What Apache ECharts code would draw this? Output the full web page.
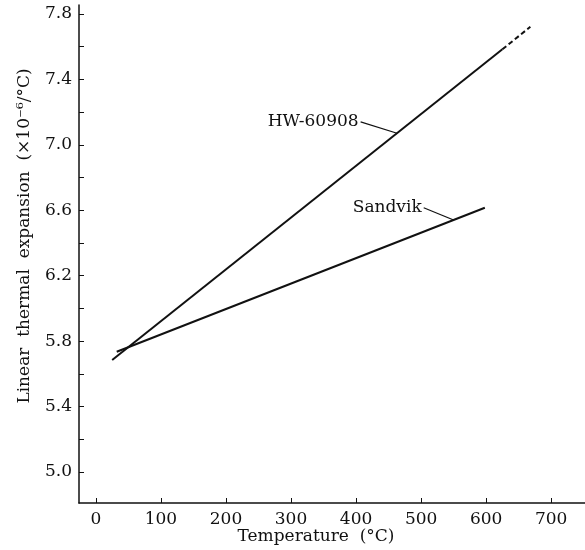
<!DOCTYPE html>
<html>
<head>
<meta charset="utf-8">
<script src="https://cdn.jsdelivr.net/npm/echarts@6/dist/echarts.min.js"></script>
<style>html,body{margin:0;padding:0;background:#fff}#c{width:585px;height:550px}</style>
</head>
<body>
<div id="c"></div>
<script>
// Data
var hwSolid = [[25, 5.684], [625, 7.584]];
var hwDashed = [[625, 7.584], [668, 7.722]];
var sandvik = [[32, 5.735], [598, 6.615]];
var hwLeader = [[407, 7.14], [463, 7.071]];
var sandvikLeader = [[504, 6.615], [550, 6.540]];
var hwName = 'HW-60908';
var sandvikName = 'Sandvik';
var xTicks = [0, 100, 200, 300, 400, 500, 600, 700];
var yLabelTicks = [5.0, 5.4, 5.8, 6.2, 6.6, 7.0, 7.4, 7.8];
var yAllTicks = [5.0, 5.2, 5.4, 5.6, 5.8, 6.0, 6.2, 6.4, 6.6, 6.8, 7.0, 7.2, 7.4, 7.6, 7.8];
var xTitle = 'Temperature  (°C)';
var yTitle = 'Linear  thermal  expansion  (×10⁻⁶/°C)';

var FONT = 'DejaVu Serif';
var INK = '#111';
var chart = echarts.init(document.getElementById('c'), null, {renderer: 'canvas'});

function line(data, width, type) {
  return {type: 'line', data: data, symbol: 'none', silent: true, animation: false,
    lineStyle: {color: INK, width: width, type: type || 'solid'}};
}
var hwLead = line(hwLeader, 1.2);
hwLead.markPoint = {symbol: 'circle', symbolSize: 0, silent: true, animation: false,
  data: [{coord: hwLeader[0], label: {show: true, position: 'left', distance: 2, formatter: hwName,
    fontFamily: FONT, fontSize: 17, color: INK}}]};
var sdLead = line(sandvikLeader, 1.2);
sdLead.markPoint = {symbol: 'circle', symbolSize: 0, silent: true, animation: false,
  data: [{coord: sandvikLeader[0], label: {show: true, position: 'left', distance: 2, formatter: sandvikName,
    fontFamily: FONT, fontSize: 17, color: INK}}]};

chart.setOption({
  backgroundColor: '#fff',
  animation: false,
  grid: {left: 79, right: 0, top: 5, bottom: 47, containLabel: false},
  xAxis: {
    type: 'value', min: -26, max: 752,
    splitLine: {show: false},
    axisLine: {show: true, onZero: false, lineStyle: {color: INK, width: 1.5}},
    axisTick: {show: true, inside: true, length: 5, customValues: xTicks, lineStyle: {color: INK, width: 1}},
    axisLabel: {customValues: xTicks, margin: 8, fontFamily: FONT, fontSize: 17, color: INK}
  },
  yAxis: {
    type: 'value', min: 4.81, max: 7.855,
    splitLine: {show: false},
    axisLine: {show: true, onZero: false, lineStyle: {color: INK, width: 1.5}},
    axisTick: {show: true, inside: true, length: 5, customValues: yAllTicks, lineStyle: {color: INK, width: 1}},
    axisLabel: {customValues: yLabelTicks, margin: 7, fontFamily: FONT, fontSize: 17, color: INK,
      formatter: function (v) { return v.toFixed(1); }}
  },
  graphic: [
    {type: 'text', x: 316, y: 537, style: {text: xTitle, font: '17px "DejaVu Serif"', fill: INK, align: 'center', verticalAlign: 'middle'}},
    {type: 'text', x: 25, y: 236, rotation: Math.PI / 2, style: {text: yTitle, font: '17px "DejaVu Serif"', fill: INK, align: 'center', verticalAlign: 'middle'}}
  ],
  series: [
    line(hwSolid, 2),
    line(hwDashed, 2, [5, 3]),
    line(sandvik, 2),
    hwLead,
    sdLead
  ]
});
</script>
</body>
</html>
